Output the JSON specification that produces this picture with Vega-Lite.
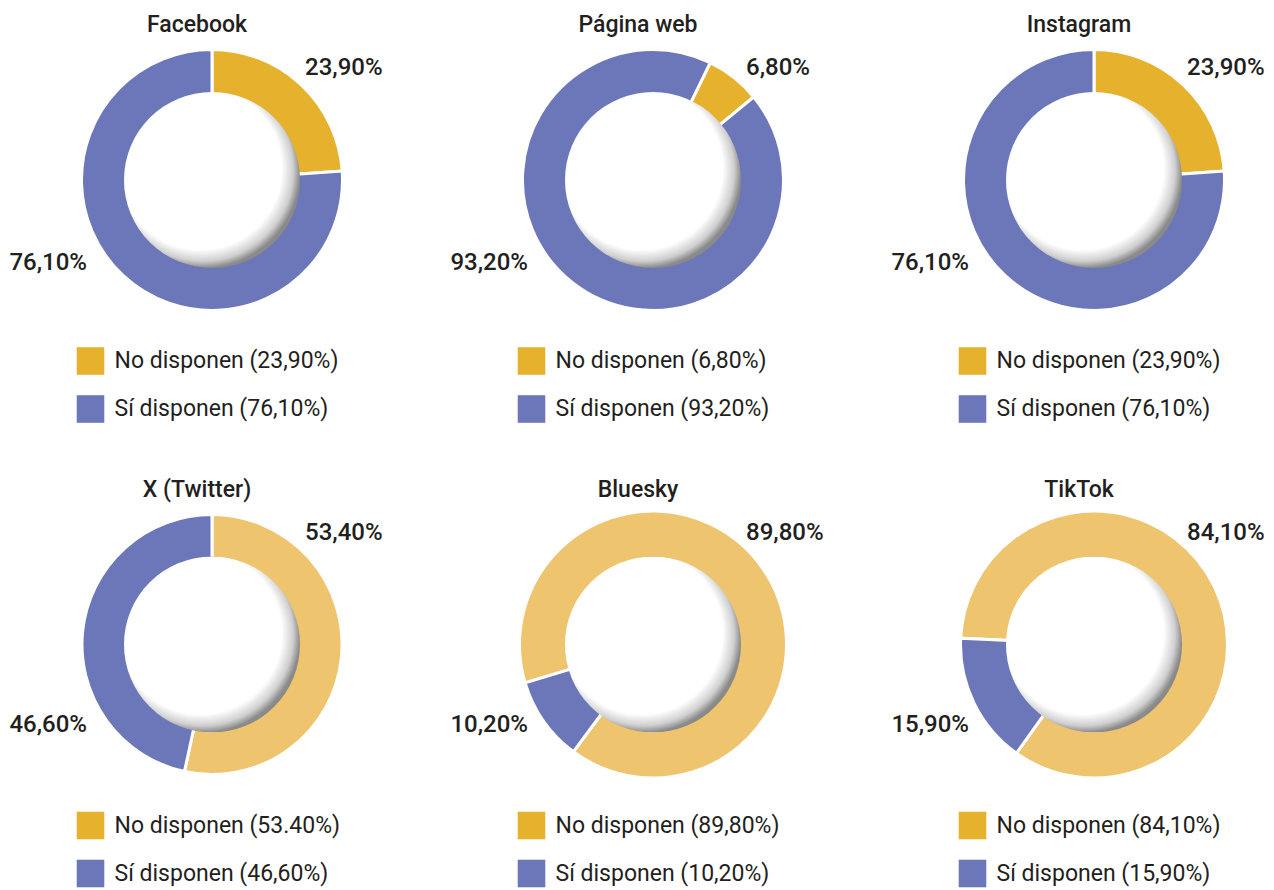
{
  "$schema": "https://vega.github.io/schema/vega-lite/v6.json",
  "background": "white",
  "padding": {"left": 9, "top": 14, "right": 0, "bottom": 0},
  "spacing": 464.5,
  "bounds": "flush",
  "config": {
    "font": "Roboto",
    "view": {"stroke": null},
    "title": {"fontSize": 23, "fontWeight": 500, "color": "#231F20", "offset": 3, "dx": -15, "font": "Roboto"},
    "text": {"color": "#231F20", "font": "Roboto"},
    "legend": {"symbolType": "square", "symbolSize": 760, "labelFontSize": 23, "labelColor": "#231F20", "labelFont": "Roboto", "labelOffset": 10, "rowPadding": 20, "padding": 0, "symbolStrokeWidth": 0, "labelLimit": 0}
  },
  "datasets": {
    "fb": [
      {"estado": "No", "valor": 23.9, "etiqueta": "23,90%", "leyenda": "No disponen (23,90%)"},
      {"estado": "Sí", "valor": 76.1, "etiqueta": "76,10%", "leyenda": "Sí disponen (76,10%)"}
    ],
    "web": [
      {"estado": "No", "valor": 6.8, "etiqueta": "6,80%", "leyenda": "No disponen (6,80%)"},
      {"estado": "Sí", "valor": 93.2, "etiqueta": "93,20%", "leyenda": "Sí disponen (93,20%)"}
    ],
    "ig": [
      {"estado": "No", "valor": 23.9, "etiqueta": "23,90%", "leyenda": "No disponen (23,90%)"},
      {"estado": "Sí", "valor": 76.1, "etiqueta": "76,10%", "leyenda": "Sí disponen (76,10%)"}
    ],
    "tw": [
      {"estado": "No", "valor": 53.4, "etiqueta": "53,40%", "leyenda": "No disponen (53.40%)"},
      {"estado": "Sí", "valor": 46.6, "etiqueta": "46,60%", "leyenda": "Sí disponen (46,60%)"}
    ],
    "bs": [
      {"estado": "No", "valor": 89.8, "etiqueta": "89,80%", "leyenda": "No disponen (89,80%)"},
      {"estado": "Sí", "valor": 10.2, "etiqueta": "10,20%", "leyenda": "Sí disponen (10,20%)"}
    ],
    "tt": [
      {"estado": "No", "valor": 84.1, "etiqueta": "84,10%", "leyenda": "No disponen (84,10%)"},
      {"estado": "Sí", "valor": 15.9, "etiqueta": "15,90%", "leyenda": "Sí disponen (15,90%)"}
    ]
  },
  "resolve": {"scale": {"color": "independent", "fill": "independent", "theta": "independent", "x": "independent", "y": "independent"}, "legend": {"color": "independent", "fill": "independent"}},
  "vconcat": [
    {
      "spacing": 81,
      "bounds": "flush",
      "resolve": {"scale": {"color": "independent", "fill": "independent", "theta": "independent", "x": "independent", "y": "independent"}, "legend": {"color": "independent", "fill": "independent"}},
      "hconcat": [
        {
          "data": {"name": "fb"}, "width": 360, "height": 280, "title": "Facebook",
          "layer": [
            {"mark": {"type": "arc", "outerRadius": 120, "innerRadius": 95},
             "encoding": {
               "theta": {"field": "valor", "type": "quantitative", "stack": true, "scale": {"domain": [0, 100], "range": [0, 6.2832]}},
               "color": {"field": "leyenda", "type": "nominal", "scale": {"range": ["#E6B12C", "#6B77B9"]}, "legend": {"orient": "none", "legendX": 44.5, "legendY": 307, "title": null}}
             }},
            {"mark": {"type": "arc", "outerRadius": 130.5, "innerRadius": 85, "stroke": "white", "strokeWidth": 3},
             "encoding": {
               "theta": {"field": "valor", "type": "quantitative", "stack": true},
               "fill": {"field": "estado", "type": "nominal", "scale": {"domain": ["No", "Sí"], "range": ["#E6B12C", "#6B77B9"]}, "legend": null}
             }},
            {"transform": [{"filter": "datum.estado == 'No'"}],
             "mark": {"type": "arc", "theta": 0, "theta2": 6.2832, "outerRadius": 88, "innerRadius": 0,
               "fill": {"gradient": "radial", "x1": 0.35, "y1": 0.35, "r1": 0, "x2": 0.45, "y2": 0.45, "r2": 0.55,
                 "stops": [{"offset": 0, "color": "#ffffff"}, {"offset": 0.84, "color": "#ffffff"}, {"offset": 0.94, "color": "#cfcfcf"}, {"offset": 1, "color": "#8a8a8a"}]}},
             "encoding": {}},
            {"transform": [{"filter": "datum.estado == 'No'"}],
             "mark": {"type": "text", "align": "left", "baseline": "middle", "fontSize": 24, "fontWeight": 500},
             "encoding": {
               "x": {"field": "estado", "type": "nominal", "scale": {"type": "point", "domain": ["No", "Sí"], "range": [273, 55], "padding": 0}, "axis": null},
               "y": {"field": "estado", "type": "nominal", "scale": {"type": "point", "domain": ["No", "Sí"], "range": [28, 223], "padding": 0}, "axis": null},
               "text": {"field": "etiqueta"}}},
            {"transform": [{"filter": "datum.estado == 'Sí'"}],
             "mark": {"type": "text", "align": "right", "baseline": "middle", "fontSize": 24, "fontWeight": 500},
             "encoding": {
               "x": {"field": "estado", "type": "nominal", "scale": {"type": "point", "domain": ["No", "Sí"], "range": [273, 55], "padding": 0}, "axis": null},
               "y": {"field": "estado", "type": "nominal", "scale": {"type": "point", "domain": ["No", "Sí"], "range": [28, 223], "padding": 0}, "axis": null},
               "text": {"field": "etiqueta"}}}
          ]
        },
        {
          "data": {"name": "web"}, "width": 360, "height": 280, "title": "Página web",
          "layer": [
            {"mark": {"type": "arc", "outerRadius": 120, "innerRadius": 95},
             "encoding": {
               "theta": {"field": "valor", "type": "quantitative", "stack": true, "scale": {"domain": [0, 100], "range": [0.454, 6.7372]}},
               "color": {"field": "leyenda", "type": "nominal", "scale": {"range": ["#E6B12C", "#6B77B9"]}, "legend": {"orient": "none", "legendX": 44.5, "legendY": 307, "title": null}}
             }},
            {"mark": {"type": "arc", "outerRadius": 130.5, "innerRadius": 85, "stroke": "white", "strokeWidth": 3},
             "encoding": {
               "theta": {"field": "valor", "type": "quantitative", "stack": true},
               "fill": {"field": "estado", "type": "nominal", "scale": {"domain": ["No", "Sí"], "range": ["#E6B12C", "#6B77B9"]}, "legend": null}
             }},
            {"transform": [{"filter": "datum.estado == 'No'"}],
             "mark": {"type": "arc", "theta": 0, "theta2": 6.2832, "outerRadius": 88, "innerRadius": 0,
               "fill": {"gradient": "radial", "x1": 0.35, "y1": 0.35, "r1": 0, "x2": 0.45, "y2": 0.45, "r2": 0.55,
                 "stops": [{"offset": 0, "color": "#ffffff"}, {"offset": 0.84, "color": "#ffffff"}, {"offset": 0.94, "color": "#cfcfcf"}, {"offset": 1, "color": "#8a8a8a"}]}},
             "encoding": {}},
            {"transform": [{"filter": "datum.estado == 'No'"}],
             "mark": {"type": "text", "align": "left", "baseline": "middle", "fontSize": 24, "fontWeight": 500},
             "encoding": {
               "x": {"field": "estado", "type": "nominal", "scale": {"type": "point", "domain": ["No", "Sí"], "range": [273, 55], "padding": 0}, "axis": null},
               "y": {"field": "estado", "type": "nominal", "scale": {"type": "point", "domain": ["No", "Sí"], "range": [28, 223], "padding": 0}, "axis": null},
               "text": {"field": "etiqueta"}}},
            {"transform": [{"filter": "datum.estado == 'Sí'"}],
             "mark": {"type": "text", "align": "right", "baseline": "middle", "fontSize": 24, "fontWeight": 500},
             "encoding": {
               "x": {"field": "estado", "type": "nominal", "scale": {"type": "point", "domain": ["No", "Sí"], "range": [273, 55], "padding": 0}, "axis": null},
               "y": {"field": "estado", "type": "nominal", "scale": {"type": "point", "domain": ["No", "Sí"], "range": [28, 223], "padding": 0}, "axis": null},
               "text": {"field": "etiqueta"}}}
          ]
        },
        {
          "data": {"name": "ig"}, "width": 360, "height": 280, "title": "Instagram",
          "layer": [
            {"mark": {"type": "arc", "outerRadius": 120, "innerRadius": 95},
             "encoding": {
               "theta": {"field": "valor", "type": "quantitative", "stack": true, "scale": {"domain": [0, 100], "range": [0, 6.2832]}},
               "color": {"field": "leyenda", "type": "nominal", "scale": {"range": ["#E6B12C", "#6B77B9"]}, "legend": {"orient": "none", "legendX": 44.5, "legendY": 307, "title": null}}
             }},
            {"mark": {"type": "arc", "outerRadius": 130.5, "innerRadius": 85, "stroke": "white", "strokeWidth": 3},
             "encoding": {
               "theta": {"field": "valor", "type": "quantitative", "stack": true},
               "fill": {"field": "estado", "type": "nominal", "scale": {"domain": ["No", "Sí"], "range": ["#E6B12C", "#6B77B9"]}, "legend": null}
             }},
            {"transform": [{"filter": "datum.estado == 'No'"}],
             "mark": {"type": "arc", "theta": 0, "theta2": 6.2832, "outerRadius": 88, "innerRadius": 0,
               "fill": {"gradient": "radial", "x1": 0.35, "y1": 0.35, "r1": 0, "x2": 0.45, "y2": 0.45, "r2": 0.55,
                 "stops": [{"offset": 0, "color": "#ffffff"}, {"offset": 0.84, "color": "#ffffff"}, {"offset": 0.94, "color": "#cfcfcf"}, {"offset": 1, "color": "#8a8a8a"}]}},
             "encoding": {}},
            {"transform": [{"filter": "datum.estado == 'No'"}],
             "mark": {"type": "text", "align": "left", "baseline": "middle", "fontSize": 24, "fontWeight": 500},
             "encoding": {
               "x": {"field": "estado", "type": "nominal", "scale": {"type": "point", "domain": ["No", "Sí"], "range": [273, 55], "padding": 0}, "axis": null},
               "y": {"field": "estado", "type": "nominal", "scale": {"type": "point", "domain": ["No", "Sí"], "range": [28, 223], "padding": 0}, "axis": null},
               "text": {"field": "etiqueta"}}},
            {"transform": [{"filter": "datum.estado == 'Sí'"}],
             "mark": {"type": "text", "align": "right", "baseline": "middle", "fontSize": 24, "fontWeight": 500},
             "encoding": {
               "x": {"field": "estado", "type": "nominal", "scale": {"type": "point", "domain": ["No", "Sí"], "range": [273, 55], "padding": 0}, "axis": null},
               "y": {"field": "estado", "type": "nominal", "scale": {"type": "point", "domain": ["No", "Sí"], "range": [28, 223], "padding": 0}, "axis": null},
               "text": {"field": "etiqueta"}}}
          ]
        }
      ]
    },
    {
      "spacing": 81,
      "bounds": "flush",
      "resolve": {"scale": {"color": "independent", "fill": "independent", "theta": "independent", "x": "independent", "y": "independent"}, "legend": {"color": "independent", "fill": "independent"}},
      "hconcat": [
        {
          "data": {"name": "tw"}, "width": 360, "height": 280, "title": "X (Twitter)",
          "layer": [
            {"mark": {"type": "arc", "outerRadius": 120, "innerRadius": 95},
             "encoding": {
               "theta": {"field": "valor", "type": "quantitative", "stack": true, "scale": {"domain": [0, 100], "range": [0, 6.2832]}},
               "color": {"field": "leyenda", "type": "nominal", "scale": {"range": ["#E6B12C", "#6B77B9"]}, "legend": {"orient": "none", "legendX": 44.5, "legendY": 307, "title": null}}
             }},
            {"mark": {"type": "arc", "outerRadius": 130, "innerRadius": 85, "stroke": "white", "strokeWidth": 3},
             "encoding": {
               "theta": {"field": "valor", "type": "quantitative", "stack": true},
               "fill": {"field": "estado", "type": "nominal", "scale": {"domain": ["No", "Sí"], "range": ["#EEC46F", "#6B77B9"]}, "legend": null}
             }},
            {"transform": [{"filter": "datum.estado == 'No'"}],
             "mark": {"type": "arc", "theta": 0, "theta2": 6.2832, "outerRadius": 88, "innerRadius": 0,
               "fill": {"gradient": "radial", "x1": 0.35, "y1": 0.35, "r1": 0, "x2": 0.45, "y2": 0.45, "r2": 0.55,
                 "stops": [{"offset": 0, "color": "#ffffff"}, {"offset": 0.84, "color": "#ffffff"}, {"offset": 0.94, "color": "#cfcfcf"}, {"offset": 1, "color": "#8a8a8a"}]}},
             "encoding": {}},
            {"transform": [{"filter": "datum.estado == 'No'"}],
             "mark": {"type": "text", "align": "left", "baseline": "middle", "fontSize": 24, "fontWeight": 500},
             "encoding": {
               "x": {"field": "estado", "type": "nominal", "scale": {"type": "point", "domain": ["No", "Sí"], "range": [273, 55], "padding": 0}, "axis": null},
               "y": {"field": "estado", "type": "nominal", "scale": {"type": "point", "domain": ["No", "Sí"], "range": [28, 220], "padding": 0}, "axis": null},
               "text": {"field": "etiqueta"}}},
            {"transform": [{"filter": "datum.estado == 'Sí'"}],
             "mark": {"type": "text", "align": "right", "baseline": "middle", "fontSize": 24, "fontWeight": 500},
             "encoding": {
               "x": {"field": "estado", "type": "nominal", "scale": {"type": "point", "domain": ["No", "Sí"], "range": [273, 55], "padding": 0}, "axis": null},
               "y": {"field": "estado", "type": "nominal", "scale": {"type": "point", "domain": ["No", "Sí"], "range": [28, 220], "padding": 0}, "axis": null},
               "text": {"field": "etiqueta"}}}
          ]
        },
        {
          "data": {"name": "bs"}, "width": 360, "height": 280, "title": "Bluesky",
          "layer": [
            {"mark": {"type": "arc", "outerRadius": 120, "innerRadius": 95},
             "encoding": {
               "theta": {"field": "valor", "type": "quantitative", "stack": true, "scale": {"domain": [0, 100], "range": [4.421, 10.7042]}},
               "color": {"field": "leyenda", "type": "nominal", "scale": {"range": ["#E6B12C", "#6B77B9"]}, "legend": {"orient": "none", "legendX": 44.5, "legendY": 307, "title": null}}
             }},
            {"mark": {"type": "arc", "outerRadius": 133.5, "innerRadius": 85, "stroke": "white", "strokeWidth": 3},
             "encoding": {
               "theta": {"field": "valor", "type": "quantitative", "stack": true},
               "fill": {"field": "estado", "type": "nominal", "scale": {"domain": ["No", "Sí"], "range": ["#EEC46F", "#6B77B9"]}, "legend": null}
             }},
            {"transform": [{"filter": "datum.estado == 'No'"}],
             "mark": {"type": "arc", "theta": 0, "theta2": 6.2832, "outerRadius": 88, "innerRadius": 0,
               "fill": {"gradient": "radial", "x1": 0.35, "y1": 0.35, "r1": 0, "x2": 0.45, "y2": 0.45, "r2": 0.55,
                 "stops": [{"offset": 0, "color": "#ffffff"}, {"offset": 0.84, "color": "#ffffff"}, {"offset": 0.94, "color": "#cfcfcf"}, {"offset": 1, "color": "#8a8a8a"}]}},
             "encoding": {}},
            {"transform": [{"filter": "datum.estado == 'No'"}],
             "mark": {"type": "text", "align": "left", "baseline": "middle", "fontSize": 24, "fontWeight": 500},
             "encoding": {
               "x": {"field": "estado", "type": "nominal", "scale": {"type": "point", "domain": ["No", "Sí"], "range": [273, 55], "padding": 0}, "axis": null},
               "y": {"field": "estado", "type": "nominal", "scale": {"type": "point", "domain": ["No", "Sí"], "range": [28, 220], "padding": 0}, "axis": null},
               "text": {"field": "etiqueta"}}},
            {"transform": [{"filter": "datum.estado == 'Sí'"}],
             "mark": {"type": "text", "align": "right", "baseline": "middle", "fontSize": 24, "fontWeight": 500},
             "encoding": {
               "x": {"field": "estado", "type": "nominal", "scale": {"type": "point", "domain": ["No", "Sí"], "range": [273, 55], "padding": 0}, "axis": null},
               "y": {"field": "estado", "type": "nominal", "scale": {"type": "point", "domain": ["No", "Sí"], "range": [28, 220], "padding": 0}, "axis": null},
               "text": {"field": "etiqueta"}}}
          ]
        },
        {
          "data": {"name": "tt"}, "width": 360, "height": 280, "title": "TikTok",
          "layer": [
            {"mark": {"type": "arc", "outerRadius": 120, "innerRadius": 95},
             "encoding": {
               "theta": {"field": "valor", "type": "quantitative", "stack": true, "scale": {"domain": [0, 100], "range": [4.76, 11.0432]}},
               "color": {"field": "leyenda", "type": "nominal", "scale": {"range": ["#E6B12C", "#6B77B9"]}, "legend": {"orient": "none", "legendX": 44.5, "legendY": 307, "title": null}}
             }},
            {"mark": {"type": "arc", "outerRadius": 133.5, "innerRadius": 85, "stroke": "white", "strokeWidth": 3},
             "encoding": {
               "theta": {"field": "valor", "type": "quantitative", "stack": true},
               "fill": {"field": "estado", "type": "nominal", "scale": {"domain": ["No", "Sí"], "range": ["#EEC46F", "#6B77B9"]}, "legend": null}
             }},
            {"transform": [{"filter": "datum.estado == 'No'"}],
             "mark": {"type": "arc", "theta": 0, "theta2": 6.2832, "outerRadius": 88, "innerRadius": 0,
               "fill": {"gradient": "radial", "x1": 0.35, "y1": 0.35, "r1": 0, "x2": 0.45, "y2": 0.45, "r2": 0.55,
                 "stops": [{"offset": 0, "color": "#ffffff"}, {"offset": 0.84, "color": "#ffffff"}, {"offset": 0.94, "color": "#cfcfcf"}, {"offset": 1, "color": "#8a8a8a"}]}},
             "encoding": {}},
            {"transform": [{"filter": "datum.estado == 'No'"}],
             "mark": {"type": "text", "align": "left", "baseline": "middle", "fontSize": 24, "fontWeight": 500},
             "encoding": {
               "x": {"field": "estado", "type": "nominal", "scale": {"type": "point", "domain": ["No", "Sí"], "range": [273, 55], "padding": 0}, "axis": null},
               "y": {"field": "estado", "type": "nominal", "scale": {"type": "point", "domain": ["No", "Sí"], "range": [28, 220], "padding": 0}, "axis": null},
               "text": {"field": "etiqueta"}}},
            {"transform": [{"filter": "datum.estado == 'Sí'"}],
             "mark": {"type": "text", "align": "right", "baseline": "middle", "fontSize": 24, "fontWeight": 500},
             "encoding": {
               "x": {"field": "estado", "type": "nominal", "scale": {"type": "point", "domain": ["No", "Sí"], "range": [273, 55], "padding": 0}, "axis": null},
               "y": {"field": "estado", "type": "nominal", "scale": {"type": "point", "domain": ["No", "Sí"], "range": [28, 220], "padding": 0}, "axis": null},
               "text": {"field": "etiqueta"}}}
          ]
        }
      ]
    }
  ]
}
